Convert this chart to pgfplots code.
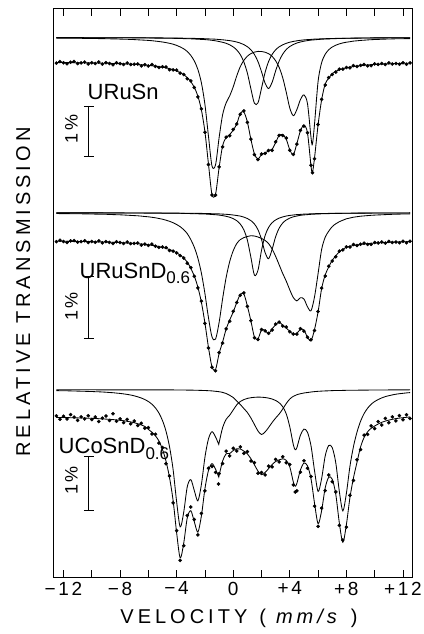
\documentclass[border=0pt]{standalone}
\usepackage{pgfplots}
\pgfplotsset{compat=1.18}
\usepackage{pgfplotstable}
\usepackage{fontspec}
\setmainfont{Liberation Sans}
\newfontfamily\axfont[LetterSpace=14]{Liberation Sans}
\newfontfamily\labfont[LetterSpace=20]{Liberation Sans}

% Spectrum 1: URuSn  (y in picture pixels, downward)
\pgfplotstableread{
v A B C T D
-12.50 37.6 37.6 38.1 62.5 63.1
-12.25 37.6 37.6 38.1 62.5 61.6
-12.00 37.7 37.6 38.2 62.5 62.8
-11.75 37.7 37.6 38.2 62.6 63.7
-11.50 37.7 37.6 38.2 62.6 62.2
-11.25 37.7 37.6 38.3 62.7 61.5
-11.00 37.7 37.6 38.3 62.7 63.5
-10.75 37.7 37.6 38.3 62.8 62.9
-10.50 37.7 37.7 38.4 62.8 62.1
-10.25 37.7 37.7 38.4 62.9 63.9
-10.00 37.7 37.7 38.5 62.9 62.7
-9.75 37.7 37.7 38.5 63.0 63.5
-9.50 37.7 37.7 38.6 63.1 62.0
-9.25 37.7 37.7 38.6 63.2 64.1
-9.00 37.8 37.7 38.7 63.2 62.7
-8.75 37.8 37.7 38.8 63.3 63.5
-8.50 37.8 37.7 38.9 63.5 64.7
-8.25 37.8 37.7 38.9 63.6 62.8
-8.00 37.8 37.7 39.1 63.7 63.6
-7.75 37.8 37.7 39.2 63.8 64.5
-7.50 37.8 37.8 39.3 64.0 63.0
-7.25 37.8 37.8 39.4 64.1 64.5
-7.00 37.9 37.8 39.6 64.3 64.3
-6.75 37.9 37.8 39.8 64.5 63.9
-6.50 37.9 37.8 40.0 64.8 65.9
-6.25 37.9 37.8 40.2 65.0 64.7
-6.00 38.0 37.8 40.4 65.4 66.0
-5.75 38.0 37.9 40.7 65.7 64.5
-5.50 38.1 37.9 41.1 66.1 66.4
-5.25 38.1 37.9 41.5 66.6 67.5
-5.00 38.2 37.9 42.0 67.2 66.8
-4.75 38.2 38.0 42.6 67.8 67.0
-4.50 38.3 38.0 43.3 68.7 69.7
-4.25 38.3 38.1 44.2 69.7 69.9
-4.00 38.4 38.1 45.4 71.0 70.1
-3.75 38.5 38.1 46.9 72.6 73.1
-3.50 38.6 38.2 48.8 74.7 74.5
-3.25 38.7 38.3 51.5 77.6 78.8
-3.00 38.8 38.3 55.4 81.6 80.9
-2.75 39.0 38.4 61.0 87.4 87.5
-2.50 39.2 38.5 69.4 96.1 96.9
-2.25 39.4 38.6 82.8 109.9 108.8
-2.00 39.6 38.7 104.5 131.9 132.3
-1.75 39.9 38.9 136.2 164.1 164.6
-1.50 40.3 39.0 166.1 194.6 195.0
-1.25 40.8 39.2 164.8 194.0 195.1
-1.00 41.5 39.5 137.9 167.9 166.9
-0.75 42.3 39.8 114.7 145.8 146.8
-0.50 43.3 40.2 102.8 137.4 137.2
-0.25 44.8 40.6 95.9 134.5 135.7
0.00 46.9 41.2 86.8 130.1 129.4
0.25 50.0 42.0 75.8 123.9 124.0
0.50 54.6 43.1 66.6 113.5 114.3
0.75 61.9 44.6 60.4 112.0 110.9
1.00 73.1 46.7 56.2 122.0 122.4
1.25 88.9 49.8 53.6 139.4 139.1
1.50 103.3 54.5 52.1 154.0 154.6
1.75 102.9 61.6 51.4 159.0 159.6
2.00 88.2 71.7 51.5 154.5 154.1
2.25 72.6 83.1 52.2 153.0 153.4
2.50 61.5 88.5 53.7 150.8 150.5
2.75 54.4 82.3 56.4 149.2 150.4
3.00 49.8 70.8 60.8 142.5 141.8
3.25 46.8 60.9 67.5 135.3 135.4
3.50 44.8 54.1 77.8 134.8 135.6
3.75 43.3 49.5 92.3 139.2 138.1
4.00 42.2 46.5 108.1 149.9 150.3
4.25 41.4 44.5 115.7 154.7 154.4
4.50 40.8 43.0 109.6 143.5 144.2
4.75 40.3 42.0 99.6 131.0 130.4
5.00 39.9 41.2 94.9 125.1 126.1
5.25 39.6 40.6 103.6 132.9 132.8
5.50 39.4 40.1 137.6 166.2 165.3
5.60 39.3 40.0 144.1 172.4 172.7
5.75 39.1 39.8 123.6 157.6 158.8
6.00 39.0 39.5 81.3 124.8 124.5
6.25 38.8 39.2 62.7 99.8 99.3
6.50 38.7 39.0 54.3 84.0 85.0
6.75 38.6 38.9 49.8 78.3 77.6
7.00 38.5 38.7 47.0 73.8 74.4
7.25 38.4 38.6 45.2 71.3 72.1
7.50 38.3 38.5 43.9 69.8 69.2
7.75 38.3 38.4 42.9 68.7 69.1
8.00 38.2 38.3 42.2 67.8 67.5
8.25 38.2 38.2 41.7 67.1 67.8
8.50 38.1 38.2 41.1 66.5 65.6
8.75 38.1 38.1 40.8 66.0 66.5
9.00 38.0 38.1 40.4 65.6 65.4
9.25 38.0 38.0 40.2 65.3 64.5
9.50 38.0 38.0 39.9 65.0 65.8
9.75 37.9 38.0 39.7 64.7 65.7
10.00 37.9 37.9 39.5 64.5 63.9
10.25 37.9 37.9 39.4 64.3 64.4
10.50 37.9 37.9 39.2 64.1 63.4
10.75 37.8 37.9 39.1 63.9 64.5
11.00 37.8 37.8 39.0 63.8 62.9
11.25 37.8 37.8 38.9 63.7 64.0
11.50 37.8 37.8 38.8 63.5 63.5
11.75 37.8 37.8 38.7 63.4 64.2
12.00 37.8 37.8 38.7 63.3 62.7
12.25 37.7 37.8 38.6 63.2 64.2
12.50 37.7 37.7 38.6 63.2 62.9
}\specA

% Spectrum 2: URuSnD0.6
\pgfplotstableread{
v A B C T D
-12.50 212.9 212.9 213.5 241.2 241.7
-12.25 212.9 212.9 213.6 241.2 240.2
-12.00 212.9 212.9 213.6 241.3 241.6
-11.75 212.9 212.9 213.6 241.3 242.4
-11.50 212.9 212.9 213.7 241.4 240.9
-11.25 212.9 212.9 213.7 241.4 240.6
-11.00 212.9 212.9 213.8 241.4 242.2
-10.75 212.9 212.9 213.8 241.5 241.6
-10.50 212.9 212.9 213.9 241.5 240.8
-10.25 212.9 212.9 213.9 241.6 242.6
-10.00 212.9 212.9 214.0 241.7 241.5
-9.75 212.9 212.9 214.1 241.8 242.3
-9.50 212.9 212.9 214.2 241.9 240.8
-9.25 212.9 212.9 214.2 241.9 242.8
-9.00 213.0 212.9 214.3 242.1 241.6
-8.75 213.0 212.9 214.4 242.2 242.4
-8.50 213.0 212.9 214.6 242.3 243.5
-8.25 213.0 212.9 214.7 242.5 241.7
-8.00 213.0 212.9 214.8 242.6 242.5
-7.75 213.0 212.9 215.0 242.8 243.5
-7.50 213.0 213.0 215.2 243.0 242.0
-7.25 213.0 213.0 215.4 243.2 243.6
-7.00 213.0 213.0 215.6 243.4 243.4
-6.75 213.0 213.0 215.8 243.7 243.1
-6.50 213.0 213.0 216.1 244.0 245.1
-6.25 213.1 213.0 216.5 244.4 244.1
-6.00 213.1 213.0 216.8 244.8 245.4
-5.75 213.1 213.0 217.3 245.3 244.1
-5.50 213.1 213.0 217.8 245.9 246.2
-5.25 213.1 213.0 218.5 246.5 247.4
-5.00 213.2 213.1 219.2 247.4 247.0
-4.75 213.2 213.1 220.2 248.4 247.6
-4.50 213.2 213.1 221.3 249.5 250.5
-4.25 213.3 213.1 222.7 251.0 251.2
-4.00 213.3 213.1 224.5 252.8 252.9
-3.75 213.3 213.2 226.7 255.1 255.6
-3.50 213.4 213.2 229.7 258.2 258.0
-3.25 213.5 213.2 233.6 262.1 263.3
-3.00 213.6 213.3 239.6 268.3 267.6
-2.75 213.7 213.3 247.3 276.2 276.3
-2.50 213.8 213.4 258.1 287.1 287.9
-2.25 213.9 213.4 273.1 302.3 301.2
-2.00 214.0 213.5 293.6 323.0 323.4
-1.75 214.2 213.6 317.7 347.4 347.9
-1.50 214.5 213.7 336.9 366.9 367.3
-1.25 214.7 213.8 339.1 369.6 370.7
-1.00 215.1 213.9 322.6 353.6 352.6
-0.75 215.6 214.1 298.7 342.0 343.0
-0.50 216.3 214.3 277.4 329.0 328.8
-0.25 217.2 214.6 261.6 320.0 321.2
0.00 218.6 215.0 250.7 312.0 311.3
0.25 220.7 215.5 243.5 302.5 302.6
0.50 224.1 216.1 239.6 294.5 295.3
0.75 229.8 217.1 237.6 294.0 292.9
1.00 240.1 218.5 236.5 306.0 306.4
1.25 257.4 220.6 235.7 321.0 320.7
1.50 275.2 224.0 236.0 337.1 337.7
1.75 270.2 229.7 237.0 338.8 339.4
2.00 250.3 239.4 238.4 330.0 329.6
2.25 235.7 252.5 240.4 330.5 330.9
2.50 227.4 258.7 243.6 333.6 333.3
2.75 222.7 249.3 249.0 328.8 330.0
3.00 219.9 236.6 256.4 324.8 324.1
3.25 218.1 228.1 264.9 322.0 322.1
3.50 216.9 223.0 273.5 325.3 326.1
3.75 216.0 220.0 281.2 328.1 327.0
4.00 215.4 218.1 289.9 331.3 331.7
4.25 215.0 216.8 297.6 334.3 334.0
4.50 214.6 216.0 300.9 333.4 334.1
4.75 214.4 215.3 297.7 329.3 328.7
5.00 214.1 214.9 299.0 330.1 331.1
5.25 214.0 214.6 306.8 337.3 337.2
5.50 213.8 214.3 310.7 340.7 339.8
5.75 213.7 214.1 296.6 329.3 330.5
6.00 213.6 213.9 273.5 311.8 311.5
6.25 213.5 213.8 249.4 288.6 288.1
6.50 213.5 213.6 237.3 275.0 276.0
6.75 213.4 213.6 231.2 267.0 266.3
7.00 213.3 213.5 226.6 260.3 260.9
7.25 213.3 213.4 223.8 255.9 256.7
7.50 213.3 213.4 221.7 251.7 251.1
7.75 213.2 213.3 220.2 249.5 249.9
8.00 213.2 213.3 218.8 247.2 246.9
8.25 213.2 213.2 218.0 246.3 247.0
8.50 213.1 213.2 217.2 245.4 244.5
8.75 213.1 213.2 216.7 244.9 245.4
9.00 213.1 213.1 216.2 244.4 244.2
9.25 213.1 213.1 215.9 244.0 243.2
9.50 213.0 213.1 215.6 243.6 244.4
9.75 213.0 213.1 215.3 243.3 244.3
10.00 213.0 213.0 215.1 243.1 242.5
10.25 213.0 213.0 214.9 242.8 242.9
10.50 213.0 213.0 214.8 242.7 242.0
10.75 213.0 213.0 214.6 242.5 243.1
11.00 213.0 213.0 214.5 242.3 241.4
11.25 213.0 213.0 214.3 242.2 242.5
11.50 213.0 213.0 214.2 242.0 242.0
11.75 213.0 213.0 214.1 241.9 242.7
12.00 213.0 213.0 214.0 241.8 241.2
12.25 213.0 213.0 214.0 241.7 242.7
12.50 212.9 212.9 213.9 241.6 241.3
}\specB

% Spectrum 3: UCoSnD0.6  (S = sextet, Q = central line)
\pgfplotstableread{
v S Q T D
-12.50 390.6 389.8 417.4 415.9
-12.25 390.7 389.8 417.5 419.2
-12.00 390.7 389.8 417.5 416.3
-11.75 390.8 389.8 417.6 418.9
-11.50 390.9 389.8 417.7 414.6
-11.25 391.0 389.8 417.8 417.1
-11.00 391.1 389.8 417.9 420.4
-10.75 391.2 389.8 418.0 416.8
-10.50 391.3 389.8 418.1 418.9
-10.25 391.4 389.8 418.2 415.7
-10.00 391.5 389.8 418.3 419.6
-9.75 391.7 389.8 418.5 417.0
-9.50 391.8 389.9 418.7 421.5
-9.25 392.0 389.9 418.9 418.2
-9.00 392.2 389.9 419.1 416.0
-8.75 392.5 389.9 419.3 420.5
-8.50 392.7 389.9 419.6 413.8
-8.25 393.1 389.9 419.9 421.3
-8.00 393.4 389.9 420.3 418.9
-7.75 393.9 389.9 420.7 422.6
-7.50 394.4 389.9 421.3 419.4
-7.25 395.0 389.9 421.9 423.8
-7.00 395.8 389.9 422.7 421.0
-6.75 396.8 389.9 423.7 425.4
-6.50 398.0 389.9 424.9 423.3
-6.25 399.5 389.9 426.4 428.2
-6.00 401.5 389.9 429.4 427.6
-5.75 404.2 389.9 432.1 434.0
-5.50 407.9 389.9 435.8 434.2
-5.25 413.1 389.9 441.0 443.1
-5.00 420.6 389.9 449.5 447.6
-4.75 431.3 389.9 461.2 463.8
-4.50 447.0 389.9 477.9 476.0
-4.25 469.6 389.9 500.5 502.9
-4.00 501.8 390.0 532.8 530.6
-3.75 526.9 390.0 557.9 560.4
-3.50 512.2 390.0 543.2 545.7
-3.25 486.8 390.1 517.9 515.4
-3.00 479.6 390.1 510.7 507.0
-2.75 490.6 390.2 521.8 519.5
-2.50 500.8 390.3 532.1 534.9
-2.25 484.5 390.4 515.9 513.4
-2.00 457.2 390.5 488.7 490.9
-1.75 438.8 390.7 470.5 468.2
-1.50 431.7 390.9 463.6 466.4
-1.25 436.9 391.3 469.2 472.4
-1.04 443.7 391.6 476.4 484.0
-1.00 442.7 391.7 475.4 473.6
-0.75 427.6 392.4 461.0 463.5
-0.50 419.3 393.5 453.8 451.2
-0.25 415.2 395.3 453.5 455.9
0.00 410.0 397.5 450.5 448.3
0.25 404.8 401.0 448.8 450.9
0.50 401.5 404.5 449.0 446.9
0.75 399.6 408.5 451.1 453.4
1.00 398.4 412.5 453.9 451.6
1.25 397.7 418.0 458.7 461.0
1.50 397.3 424.5 464.8 462.6
1.75 397.1 431.0 471.1 473.2
2.00 397.2 434.5 474.7 472.5
2.25 397.5 432.0 472.5 474.9
2.50 398.1 427.5 468.6 466.1
2.75 399.0 422.5 464.5 466.8
3.00 400.5 418.0 461.5 459.4
3.25 402.8 414.0 459.8 461.9
3.50 406.8 409.0 458.8 456.8
3.75 413.9 403.5 460.4 462.8
4.00 426.9 399.0 466.9 464.5
4.25 444.8 396.3 482.1 484.9
4.38 449.7 395.5 486.2 492.0
4.50 447.7 394.7 483.4 490.8
4.75 435.2 393.7 469.9 472.1
5.00 429.1 393.0 463.1 460.8
5.25 432.3 392.5 465.8 468.3
5.50 445.9 392.0 478.9 476.5
5.75 470.9 391.6 503.5 506.1
6.00 491.4 391.3 523.7 526.3
6.25 478.5 391.1 510.6 508.2
6.50 456.1 390.9 488.0 490.6
6.75 445.5 390.8 477.3 475.0
7.00 447.6 390.6 479.2 481.8
7.25 462.8 390.5 494.3 491.9
7.50 491.3 390.5 522.8 525.4
7.75 510.9 390.4 542.3 540.0
8.00 493.3 390.3 524.6 527.2
8.25 466.4 390.3 497.7 495.3
8.50 446.6 390.3 477.9 480.4
8.75 432.1 390.2 462.3 459.8
9.00 421.3 390.1 447.0 449.6
9.25 413.6 390.1 437.5 435.1
9.50 408.2 390.1 431.8 434.4
9.75 404.3 390.0 428.3 425.9
10.00 401.5 390.0 426.0 428.6
10.25 399.5 390.0 424.0 421.6
10.50 397.9 390.0 422.3 425.0
10.75 396.6 390.0 421.1 418.4
11.00 395.7 389.9 420.1 422.7
11.25 394.9 389.9 419.3 416.8
11.50 394.2 389.9 418.6 420.9
11.75 393.7 389.9 418.1 415.6
12.00 393.3 389.9 417.7 419.8
12.25 392.9 389.9 417.3 414.8
12.50 392.6 389.8 416.9 418.5
}\specC

\begin{document}
\begin{tikzpicture}
\path[use as bounding box] (0,0) rectangle (423pt,634pt);
\begin{axis}[
  at={(53.3pt,56.3pt)}, anchor=south west,
  width=359pt, height=569.4pt, scale only axis,
  xmin=-12.72, xmax=12.66, ymin=8.3, ymax=577.7, y dir=reverse,
  xtick={-12,-8,-4,0,4,8,12},
  xticklabels={−12,−8,−4,0,+4,+8,+12},
  minor xtick={-10,-6,-2,2,6,10},
  ytick=\empty,
  xtick pos=both, xticklabel pos=lower,
  tick align=inside,
  major tick length=8pt, minor tick length=8pt,
  every tick/.style={black, line width=0.8pt},
  axis line style={line width=0.9pt},
  xticklabel style={font=\axfont\fontsize{19}{19}\selectfont, inner sep=1pt, yshift=-3pt},
  clip=false,
]
% spectrum 1
\addplot[black, line width=0.85pt, smooth, no marks] table[x=v,y=A]{\specA};
\addplot[black, line width=0.85pt, smooth, no marks] table[x=v,y=B]{\specA};
\addplot[black, line width=0.85pt, smooth, no marks] table[x=v,y=C]{\specA};
\addplot[black, line width=0.85pt, smooth, no marks] table[x=v,y=T]{\specA};
\addplot[black, only marks, mark=*, mark size=1.6pt] table[x=v,y=D]{\specA};
% spectrum 2
\addplot[black, line width=0.85pt, smooth, no marks] table[x=v,y=A]{\specB};
\addplot[black, line width=0.85pt, smooth, no marks] table[x=v,y=B]{\specB};
\addplot[black, line width=0.85pt, smooth, no marks] table[x=v,y=C]{\specB};
\addplot[black, line width=0.85pt, smooth, no marks] table[x=v,y=T]{\specB};
\addplot[black, only marks, mark=*, mark size=1.6pt] table[x=v,y=D]{\specB};
% spectrum 3
\addplot[black, line width=0.85pt, smooth, no marks] table[x=v,y=S]{\specC};
\addplot[black, line width=0.85pt, smooth, no marks] table[x=v,y=Q]{\specC};
\addplot[black, line width=0.85pt, smooth, no marks] table[x=v,y=T]{\specC};
\addplot[black, only marks, mark=*, mark size=1.6pt] table[x=v,y=D]{\specC};

% sample labels
\node[anchor=base west, inner sep=0pt, font=\fontsize{22}{22}\selectfont] at (axis cs:-10.30,99.5) {URuSn};
\node[anchor=base west, inner sep=0pt, font=\fontsize{22}{22}\selectfont] at (axis cs:-10.87,278.3) {URuSnD\raisebox{-5pt}{\fontsize{17}{17}\selectfont 0.6}};
\node[anchor=base west, inner sep=0pt, font=\fontsize{22}{22}\selectfont] at (axis cs:-12.35,453.3) {UCoSnD\raisebox{-6pt}{\fontsize{17}{17}\selectfont 0.6}};

% 1% scale bars
\draw[line width=0.8pt] (axis cs:-10.21,106) -- (axis cs:-10.21,156.7);
\draw[line width=0.8pt] (axis cs:-10.56,106) -- (axis cs:-9.84,106);
\draw[line width=0.8pt] (axis cs:-10.56,156.7) -- (axis cs:-9.84,156.7);
\draw[line width=0.8pt] (axis cs:-10.21,276.7) -- (axis cs:-10.21,338.3);
\draw[line width=0.8pt] (axis cs:-10.56,276.7) -- (axis cs:-9.84,276.7);
\draw[line width=0.8pt] (axis cs:-10.56,338.3) -- (axis cs:-9.84,338.3);
\draw[line width=0.8pt] (axis cs:-10.21,456.7) -- (axis cs:-10.21,510);
\draw[line width=0.8pt] (axis cs:-10.56,456.7) -- (axis cs:-9.84,456.7);
\draw[line width=0.8pt] (axis cs:-10.56,510) -- (axis cs:-9.84,510);
\node[rotate=90, inner sep=0pt, font=\axfont\fontsize{18}{18}\selectfont] at (axis cs:-11.43,129) {1\%};
\node[rotate=90, inner sep=0pt, font=\axfont\fontsize{18}{18}\selectfont] at (axis cs:-11.43,306.7) {1\%};
\node[rotate=90, inner sep=0pt, font=\axfont\fontsize{18}{18}\selectfont] at (axis cs:-11.43,480.7) {1\%};
\end{axis}
\node[anchor=base, inner sep=0pt, font=\labfont\fontsize{20}{20}\selectfont] at (239pt,10pt) {VELOCITY\hspace{12pt}(\hspace{10pt}\textit{mm/s}\hspace{10pt})};
\node[rotate=90, anchor=base, inner sep=0pt, font=\labfont\fontsize{20}{20}\selectfont] at (30pt,342pt) {RELATIVE TRANSMISSION};
\end{tikzpicture}
\end{document}
